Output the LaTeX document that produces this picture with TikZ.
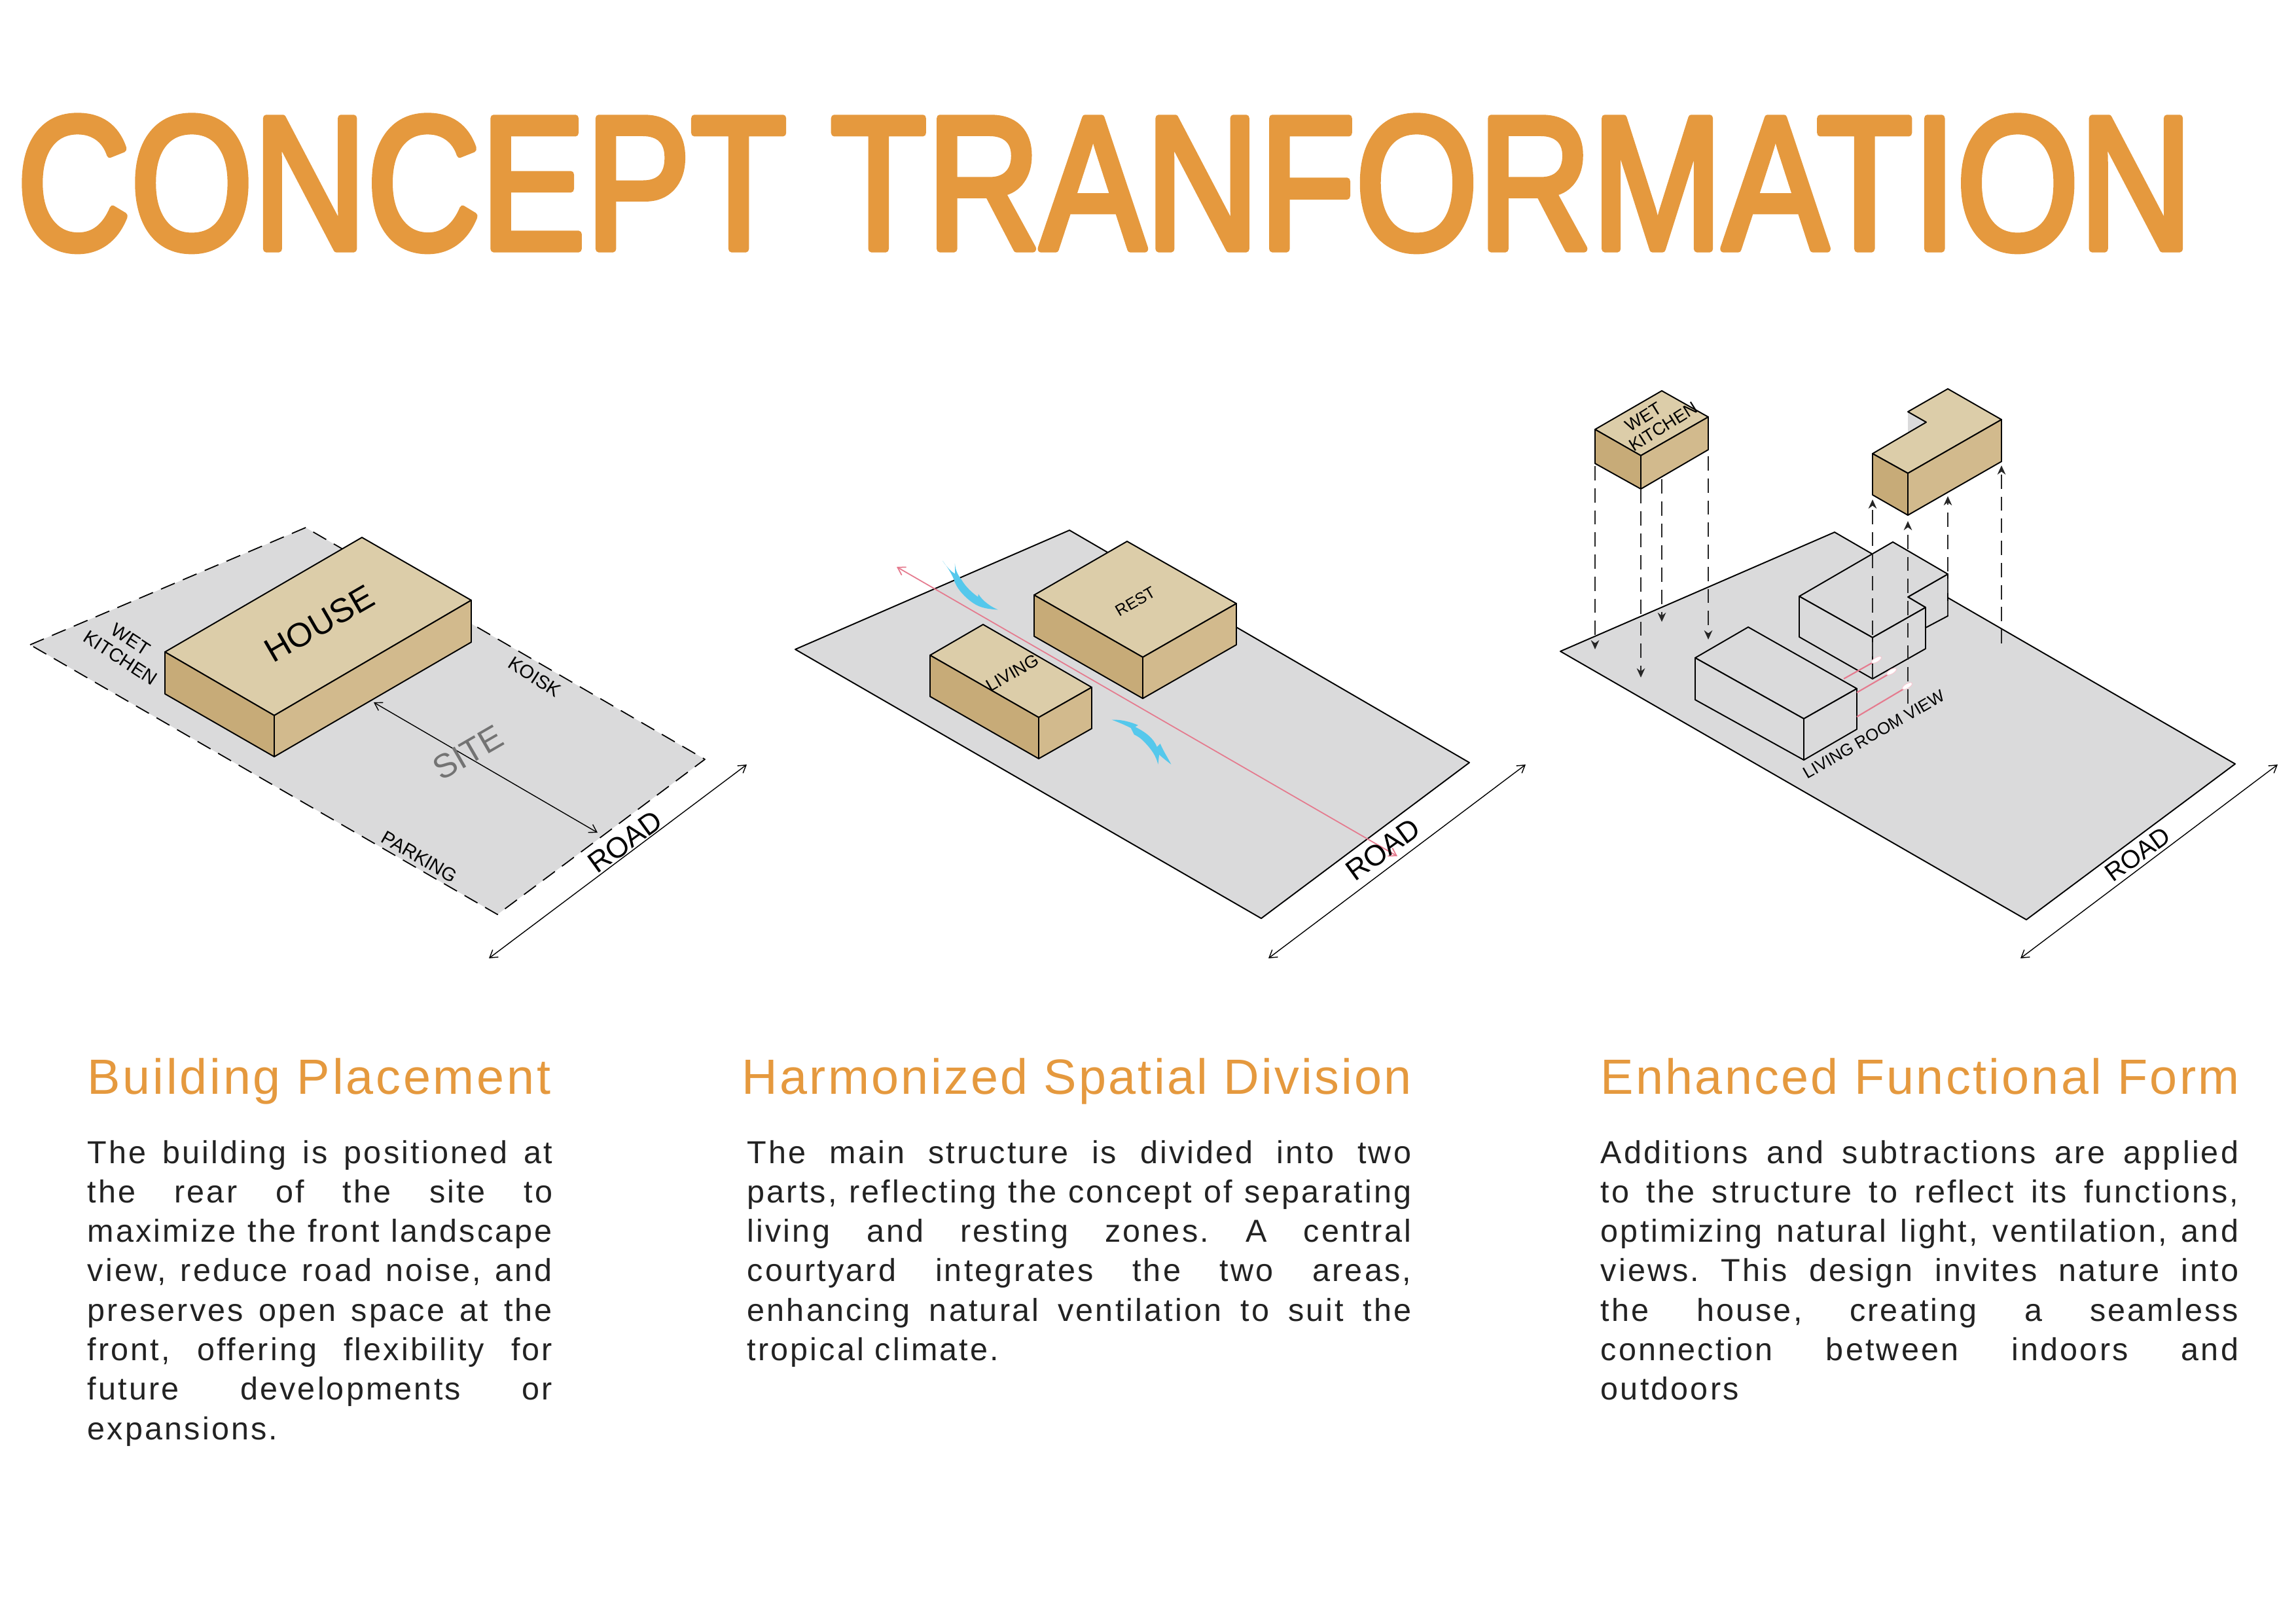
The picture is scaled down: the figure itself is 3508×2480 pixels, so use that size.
\documentclass[tikz,border=0pt]{standalone}
\usepackage{graphicx}
\usepackage{fontspec}
\setmainfont{Liberation Sans}
\newfontfamily\headfont[LetterSpace=5]{Liberation Sans}
\newfontfamily\headfontb[LetterSpace=4.3]{Liberation Sans}
\newfontfamily\bodyfont[LetterSpace=6.5]{Liberation Sans}
\newfontfamily\titlefont[FakeBold=3.8]{Liberation Sans}
\usetikzlibrary{arrows.meta,shapes.geometric}
\definecolor{orangeT}{HTML}{E5993E}
\definecolor{siteG}{HTML}{DADADB}
\definecolor{topB}{HTML}{DCCDA9}
\definecolor{leftB}{HTML}{C7AB78}
\definecolor{rightB}{HTML}{D2BA8D}
\definecolor{pinkL}{HTML}{E57A8E}
\definecolor{paleP}{HTML}{F6C9D2}
\definecolor{blueW}{HTML}{55C8EC}
\definecolor{bodyK}{HTML}{222222}
\newcommand\jl[2]{\hbox to #1{#2}}
\tikzset{
  x=0.01cm,y=-0.01cm,
  edge/.style={draw=black,line width=0.55pt,line join=round},
  site/.style={edge,fill=siteG},
  sitedash/.style={draw=black,line width=0.5pt,dash pattern=on 6.5pt off 3.8pt},
  tp/.style={edge,fill=topB},
  lf/.style={edge,fill=leftB},
  rt/.style={edge,fill=rightB},
  gb/.style={edge,fill=siteG},
  dim/.style={draw=black,line width=0.4pt,{Straight Barb[length=3.2pt,width=4pt]}-{Straight Barb[length=3.2pt,width=4pt]}},
  pinkdim/.style={draw=pinkL,line width=0.5pt,{Straight Barb[length=3.2pt,width=4pt]}-{Straight Barb[length=3.2pt,width=4pt]}},
  drop/.style={draw=black!85,line width=0.45pt,dash pattern=on 6.2pt off 3.4pt,-{Stealth[length=4pt,width=3.6pt]}},
  pinkv/.style={draw=pinkL,line width=0.6pt},
  eyemark/.style={draw=paleP,line width=0.3pt,fill=white,ellipse,minimum width=0.17cm,minimum height=0.07cm,inner sep=0pt},
  lab/.style={inner sep=0pt,font=\fontsize{8.2pt}{9pt}\selectfont,text=black},
  bigroad/.style={inner sep=0pt,font=\fontsize{12.6pt}{14pt}\selectfont,text=black,rotate=36},
  head/.style={anchor=base west,inner sep=0pt,text=orangeT,font=\headfont\fontsize{21.5pt}{24pt}\selectfont},
  headb/.style={anchor=base west,inner sep=0pt,text=orangeT,font=\headfontb\fontsize{21.5pt}{24pt}\selectfont},
  para/.style={anchor=base west,inner sep=0pt,text=bodyK,font=\bodyfont\frenchspacing\fontsize{13.8pt}{17.15pt}\selectfont},
  wind/.style={fill=blueW,draw=none}
}
\begin{document}
\begin{tikzpicture}[line join=round]
\useasboundingbox (0,0) rectangle (3508,2480);

% Title
\node[anchor=base west,inner sep=0pt,text=orangeT] (title) at (25,380)
  {\resizebox{33.22cm}{2.02cm}{\titlefont CONCEPT TRANFORMATION}};

% ---------- Panel 1
\fill[siteG] (46,985) -- (467,806) -- (1077,1160) -- (760,1397) -- cycle;
\draw[sitedash] (46,985) -- (467,806) -- (1077,1160) -- (760,1397) -- cycle;
\path[tp] (252,996) -- (553,821) -- (720,917) -- (419,1093) -- cycle;
\path[lf] (252,996) -- (419,1093) -- (419,1156) -- (252,1060) -- cycle;
\path[rt] (419,1093) -- (720,917) -- (720,981) -- (419,1156) -- cycle;
\node[lab,rotate=30,font=\fontsize{14.6pt}{16pt}\selectfont] (house) at (488,953) {HOUSE};
\node[lab,rotate=-33] (wet1) at (200,977) {WET};
\node[lab,rotate=-33] (kit1) at (184,1005) {KITCHEN};
\node[lab,rotate=-33] (koisk) at (817,1034) {KOISK};
\node[lab,rotate=-30] (parking) at (641,1309) {PARKING};
\coordinate (sa) at (571,1073);
\coordinate (sb) at (913,1272);
\draw[dim] (sa) -- (sb);
\node[lab,rotate=30,text=black!55,font=\fontsize{14.6pt}{16pt}\selectfont] (sitel) at (715,1150) {SITE};
\coordinate (ra1) at (747,1464);
\coordinate (rb1) at (1141,1168);
\draw[dim] (ra1) -- (rb1);
\node[bigroad] (road1) at (955,1286) {ROAD};

% ---------- Panel 2
\path[site] (1215,992) -- (1634,810) -- (2245,1165) -- (1927,1403) -- cycle;
\path[tp] (1580,909) -- (1722,827) -- (1889,922) -- (1746,1004) -- cycle;
\path[lf] (1580,909) -- (1746,1004) -- (1746,1067) -- (1580,972) -- cycle;
\path[rt] (1746,1004) -- (1889,922) -- (1889,985) -- (1746,1067) -- cycle;
\path[tp] (1421,1001) -- (1502,954) -- (1668,1050) -- (1587,1096) -- cycle;
\path[lf] (1421,1001) -- (1587,1096) -- (1587,1159) -- (1421,1064) -- cycle;
\path[rt] (1587,1096) -- (1668,1050) -- (1668,1113) -- (1587,1159) -- cycle;
\node[lab,rotate=30,font=\fontsize{7pt}{8pt}\selectfont] (rest) at (1735,919) {REST};
\node[lab,rotate=30,font=\fontsize{7.6pt}{8pt}\selectfont] (living) at (1547,1028) {LIVING};
\coordinate (pa) at (1370,866);
\coordinate (pb) at (2135,1308);
\draw[pinkdim] (pa) -- (pb);
\begin{scope}[shift={(1400,820)},x=0.00333cm,y=-0.00333cm]
\path[wind] (120,110) .. controls (145,145) and (160,160) .. (178,170) -- (177,122)
  .. controls (180,160) and (195,180) .. (208,198) .. controls (228,232) and (258,258) .. (283,276)
  -- (285,263) .. controls (305,295) and (340,320) .. (375,335)
  .. controls (335,332) and (295,328) .. (262,305) .. controls (225,280) and (185,240) .. (172,195)
  .. controls (160,165) and (140,135) .. (120,110) -- cycle;
\path[wind] (897,840) .. controls (940,838) and (985,850) .. (1018,865) -- (1005,873)
  .. controls (1050,895) and (1090,925) .. (1105,965) -- (1120,950)
  .. controls (1135,985) and (1155,1015) .. (1170,1045)
  .. controls (1150,1030) and (1125,1010) .. (1115,1000) -- (1110,1045)
  .. controls (1100,1005) and (1080,975) .. (1040,935)
  .. controls (1030,925) and (1015,915) .. (1000,908) -- (985,878)
  .. controls (960,865) and (925,850) .. (897,840) -- cycle;
\end{scope}
\coordinate (ra2) at (1938,1464);
\coordinate (rb2) at (2331,1168);
\draw[dim] (ra2) -- (rb2);
\node[bigroad] (road2) at (2113,1298) {ROAD};

% ---------- Panel 3
\path[site] (2384,995) -- (2803,813) -- (3415,1167) -- (3096,1405) -- cycle;
% back wing and massing
\path[gb] (2915,912) -- (2976,877) -- (2976,941) -- (2942,959) -- (2942,928) -- cycle;
\path[gb] (2749,911) -- (2892,828) -- (2976,877) -- (2915,912) -- (2942,928) -- (2861,974) -- cycle;
\path[gb] (2749,911) -- (2861,974) -- (2861,1037) -- (2749,973) -- cycle;
\path[gb] (2861,974) -- (2942,928) -- (2942,991) -- (2861,1037) -- cycle;
% living box
\path[gb] (2590,1005) -- (2671,958) -- (2837,1052) -- (2756,1098) -- cycle;
\path[gb] (2590,1005) -- (2756,1098) -- (2756,1161) -- (2590,1069) -- cycle;
\path[gb] (2756,1098) -- (2837,1052) -- (2837,1114) -- (2756,1161) -- cycle;
% view lines
\coordinate (v1a) at (2817,1037); \coordinate (v1b) at (2865,1010);
\coordinate (v2a) at (2837,1058); \coordinate (v2b) at (2887,1029);
\coordinate (v3a) at (2837,1095); \coordinate (v3b) at (2911,1051);
\draw[pinkv] (v1a) -- (v1b);
\draw[pinkv] (v2a) -- (v2b);
\draw[pinkv] (v3a) -- (v3b);
\node[eyemark,rotate=30] (e1) at (2867,1008) {};
\node[eyemark,rotate=30] (e2) at (2890,1026) {};
\node[eyemark,rotate=30] (e3) at (2914,1048) {};
\node[lab,rotate=30,font=\fontsize{7.3pt}{8pt}\selectfont] (lrv) at (2863,1122) {LIVING ROOM VIEW};
% wet kitchen box
\path[tp] (2437,656) -- (2539,597) -- (2610,637) -- (2507,696) -- cycle;
\path[lf] (2437,656) -- (2507,696) -- (2507,747) -- (2437,708) -- cycle;
\path[rt] (2507,696) -- (2610,637) -- (2610,687) -- (2507,747) -- cycle;
\node[lab,rotate=32,font=\fontsize{7.6pt}{8pt}\selectfont] (wet3) at (2511,637) {WET};
\node[lab,rotate=32,font=\fontsize{7.6pt}{8pt}\selectfont] (kit3) at (2541,652) {KITCHEN};
% L-shaped box
\fill[siteG] (2915,629) -- (2943,645) -- (2915,662) -- cycle;
\path[tp] (2861,693) -- (2943,645) -- (2915,629) -- (2976,594) -- (3058,641) -- (2915,723) -- cycle;
\path[lf] (2861,693) -- (2915,723) -- (2915,787) -- (2861,756) -- cycle;
\path[rt] (2915,723) -- (3058,641) -- (3058,705) -- (2915,787) -- cycle;
% projection lines
\coordinate (d1a) at (2437,712); \coordinate (d1b) at (2437,992);
\coordinate (d2a) at (2507,747); \coordinate (d2b) at (2507,1035);
\coordinate (d3a) at (2539,732); \coordinate (d3b) at (2539,950);
\coordinate (d4a) at (2610,697); \coordinate (d4b) at (2610,977);
\draw[drop] (d1a) -- (d1b);
\draw[drop] (d2a) -- (d2b);
\draw[drop] (d3a) -- (d3b);
\draw[drop] (d4a) -- (d4b);
\coordinate (u1a) at (2861,1037); \coordinate (u1b) at (2861,763);
\coordinate (u2a) at (2915,1075); \coordinate (u2b) at (2915,796);
\coordinate (u3a) at (2976,940); \coordinate (u3b) at (2976,758);
\coordinate (u4a) at (3058,983); \coordinate (u4b) at (3058,711);
\draw[drop] (u1a) -- (u1b);
\draw[drop] (u2a) -- (u2b);
\draw[drop] (u3a) -- (u3b);
\draw[drop] (u4a) -- (u4b);
\coordinate (ra3) at (3087,1464);
\coordinate (rb3) at (3480,1168);
\draw[dim] (ra3) -- (rb3);
\node[bigroad,font=\fontsize{11pt}{12pt}\selectfont] (road3) at (3266,1305) {ROAD};

% ---------- Text columns
\node[head] (h1) at (133,1671) {Building Placement};
\node[headb] (h2) at (1133,1671) {Harmonized Spatial Division};
\node[headb] (h3) at (2445,1671) {Enhanced Functional Form};

\node[para] (p1) at (133,1777) {\vtop{\baselineskip=17.15pt
\jl{7.10cm}{The building is positioned at}
\jl{7.10cm}{the rear of the site to}
\jl{7.10cm}{maximize the front landscape}
\jl{7.10cm}{view, reduce road noise, and}
\jl{7.10cm}{preserves open space at the}
\jl{7.10cm}{front, offering flexibility for}
\jl{7.10cm}{future developments or}
\hbox{expansions.}}};

\node[para] (p2) at (1141,1777) {\vtop{\baselineskip=17.15pt
\jl{10.14cm}{The main structure is divided into two}
\jl{10.14cm}{parts, reflecting the concept of separating}
\jl{10.14cm}{living and resting zones. A central}
\jl{10.14cm}{courtyard integrates the two areas,}
\jl{10.14cm}{enhancing natural ventilation to suit the}
\hbox{tropical climate.}}};

\node[para] (p3) at (2445,1777) {\vtop{\baselineskip=17.15pt
\jl{9.74cm}{Additions and subtractions are applied}
\jl{9.74cm}{to the structure to reflect its functions,}
\jl{9.74cm}{optimizing natural light, ventilation, and}
\jl{9.74cm}{views. This design invites nature into}
\jl{9.74cm}{the house, creating a seamless}
\jl{9.74cm}{connection between indoors and}
\hbox{outdoors}}};
\end{tikzpicture}
\end{document}
